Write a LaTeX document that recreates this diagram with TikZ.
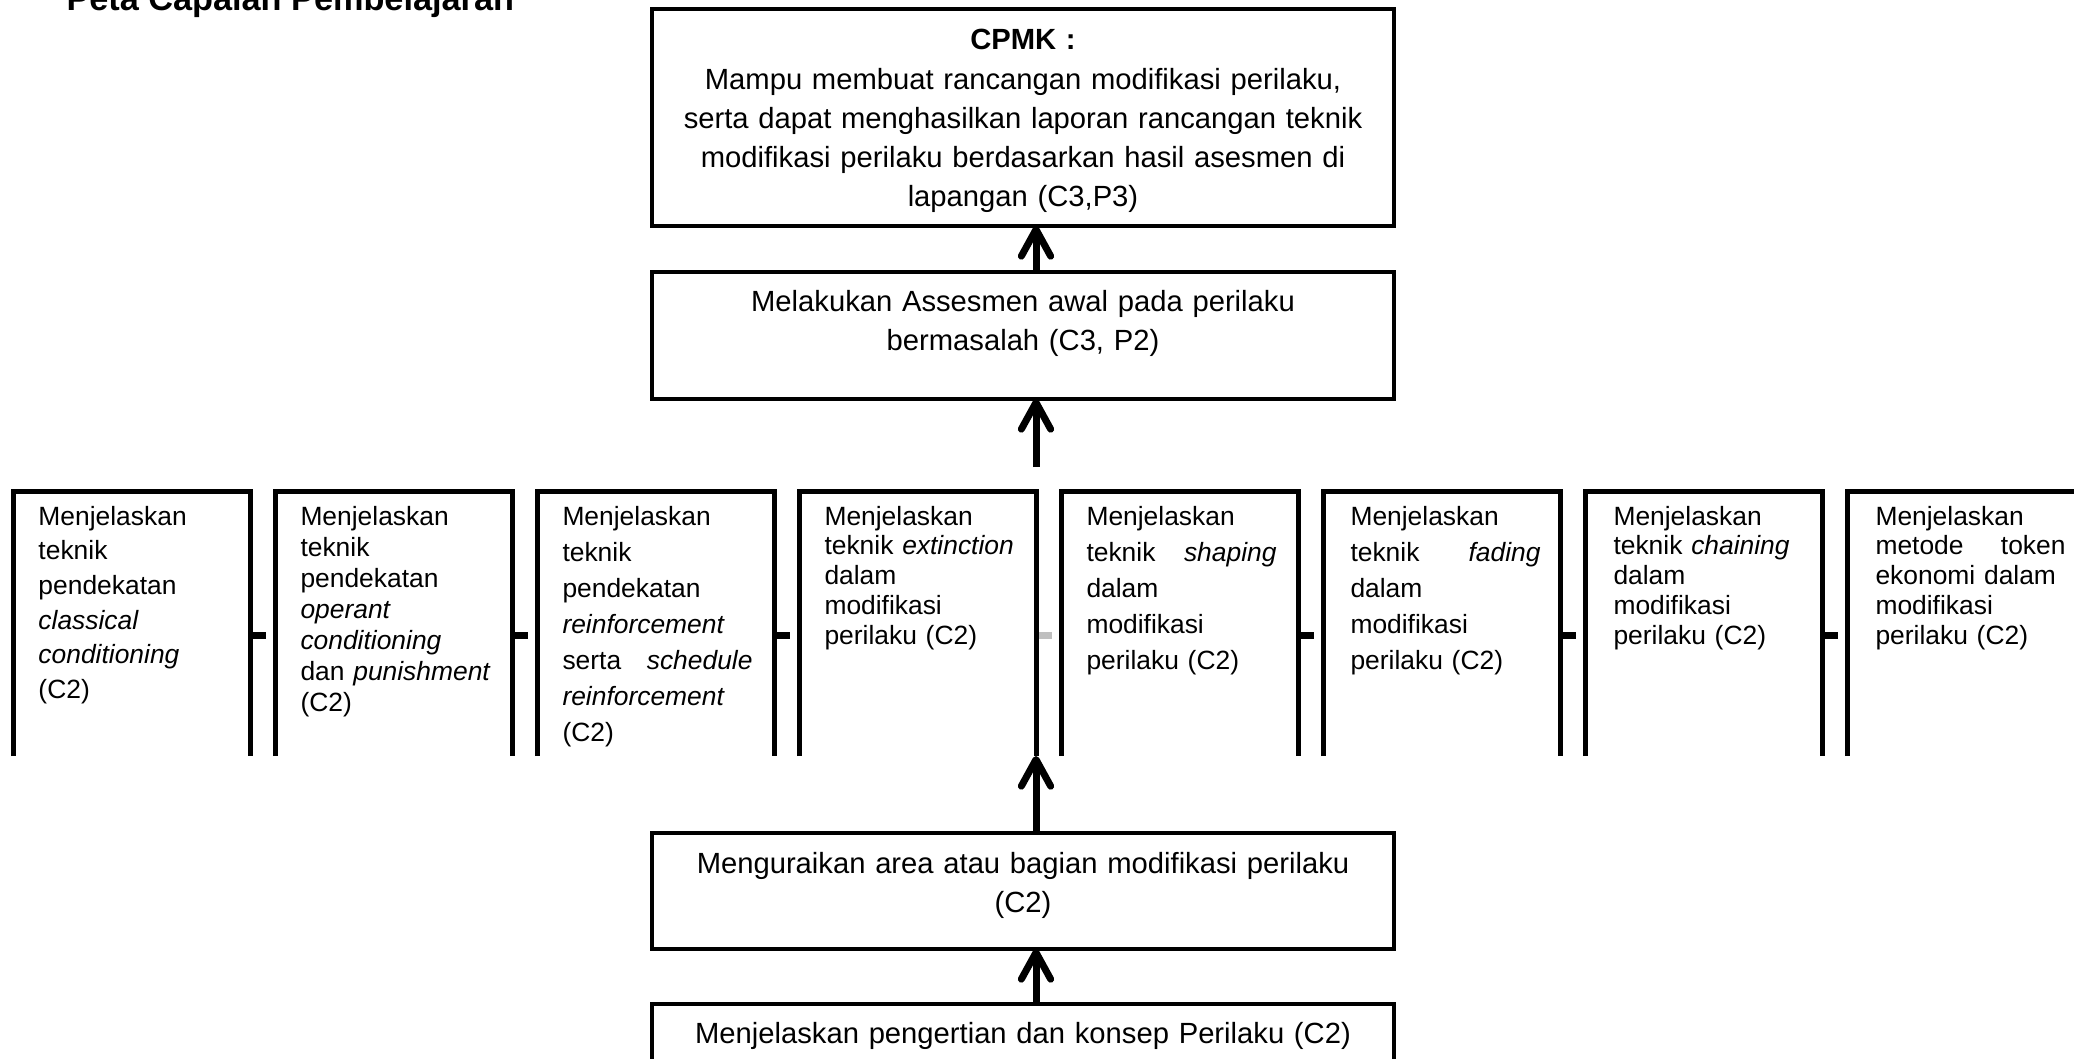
\documentclass[tikz,border=0pt]{standalone}
\usepackage{fontspec}
\setmainfont{Liberation Sans}
\usetikzlibrary{arrows.meta,calc}

\tikzset{every picture/.style={line width=0.75pt}}
\tikzset{
  boxside/.style={line width=3.75pt},
  midbox/.style={draw, line width=3.6pt, minimum width=556.5pt, inner sep=0pt, outer sep=0pt},
  rowbox/.style={inner sep=0pt, outer sep=0pt, minimum width=177.75pt, minimum height=198.75pt},
  rowtext/.style={anchor=base west, inner sep=0pt, text width=142.5pt, align=left, font=\fontsize{19.8}{27}\selectfont},
  rowtextnarrow/.style={rowtext, font=\fontsize{19.8}{22.4}\selectfont},
  midtext/.style={anchor=base, inner sep=0pt, text width=540pt, align=center, font=\fontsize{21.9}{29.4}\selectfont},
  titletext/.style={anchor=base west, inner sep=0pt, font=\fontsize{25.7}{30}\selectfont\bfseries},
  uparrow/.style={line width=5.25pt, -{Straight Barb[length=20pt,width=22pt,line cap=round,line join=round]}},
  stub/.style={line width=5.25pt, shorten >=6.5pt}
}

\begin{document}
\begin{tikzpicture}[x=0.75pt,y=0.75pt,yscale=-1,xscale=1]
\useasboundingbox (0,0) rectangle (2074,1059);

% Text Node
\node[titletext] (title) at (66,11) {Peta Capaian Pembelajaran};

%Shape: Rectangle
\node[midbox, minimum height=162.75pt] (cpmk) at (1023,117.5) {};
%Shape: Rectangle
\node[midbox, minimum height=95.25pt] (mel) at (1023,335.5) {};
%Shape: Rectangle
\node[midbox, minimum height=87pt] (urai) at (1023,891) {};
%Shape: Rectangle
\node[midbox, minimum height=75pt] (konsep) at (1023,1054) {};

%Shape: Rectangle
\node[rowbox] (b1) at (131.5,623.5) {};
\node[rowbox] (b2) at (393.5,623.5) {};
\node[rowbox] (b3) at (655.5,623.5) {};
\node[rowbox] (b4) at (917.5,623.5) {};
\node[rowbox] (b5) at (1179.5,623.5) {};
\node[rowbox] (b6) at (1441.5,623.5) {};
\node[rowbox] (b7) at (1703.5,623.5) {};
\node[rowbox] (b8) at (1965.5,623.5) {};

%Straight Lines
\draw[stub] ($(b1.north east)!0.545!(b1.south east)$) -- ($(b2.north west)!0.545!(b2.south west)$);
\draw[stub] ($(b2.north east)!0.545!(b2.south east)$) -- ($(b3.north west)!0.545!(b3.south west)$);
\draw[stub] ($(b3.north east)!0.545!(b3.south east)$) -- ($(b4.north west)!0.545!(b4.south west)$);
\draw[stub, draw=black!25] ($(b4.north east)!0.545!(b4.south east)$) -- ($(b5.north west)!0.545!(b5.south west)$);
\draw[stub] ($(b5.north east)!0.545!(b5.south east)$) -- ($(b6.north west)!0.545!(b6.south west)$);
\draw[stub] ($(b6.north east)!0.545!(b6.south east)$) -- ($(b7.north west)!0.545!(b7.south west)$);
\draw[stub] ($(b7.north east)!0.545!(b7.south east)$) -- ($(b8.north west)!0.545!(b8.south west)$);

%Shape: open boxes
\draw[boxside] (b1.south west) -- (b1.north west) -- (b1.north east) -- (b1.south east);
\draw[boxside] (b2.south west) -- (b2.north west) -- (b2.north east) -- (b2.south east);
\draw[boxside] (b3.south west) -- (b3.north west) -- (b3.north east) -- (b3.south east);
\draw[boxside] (b4.south west) -- (b4.north west) -- (b4.north east) -- (b4.south east);
\draw[boxside] (b5.south west) -- (b5.north west) -- (b5.north east) -- (b5.south east);
\draw[boxside] (b6.south west) -- (b6.north west) -- (b6.north east) -- (b6.south east);
\draw[boxside] (b7.south west) -- (b7.north west) -- (b7.north east) -- (b7.south east);
\draw[boxside] (b8.south west) -- (b8.north west) -- (b8.north east) -- (b8.south east);

%Straight Lines
\coordinate (rowarr) at ($(b4.north east)+(0,-24)$);
\draw[uparrow] (mel.north -| rowarr) -- (cpmk.south -| rowarr);
\draw[uparrow] (rowarr) -- (mel.south -| rowarr);
\draw[uparrow] (urai.north -| b4.south east) -- (b4.south east);
\draw[uparrow] (konsep.north -| rowarr) -- (urai.south -| rowarr);

% Text Node
\node[midtext] (cpmktext) at ($(cpmk.north)+(0,41)$) {\textbf{CPMK :}\\ Mampu membuat rancangan modifikasi perilaku,\\ serta dapat menghasilkan laporan rancangan teknik\\ modifikasi perilaku berdasarkan hasil asesmen di\\ lapangan (C3,P3)};
% Text Node
\node[midtext] (meltext) at ($(mel.north)+(0,39)$) {Melakukan Assesmen awal pada perilaku\\ bermasalah (C3, P2)};
% Text Node
\node[midtext] (uraitext) at ($(urai.north)+(0,40)$) {Menguraikan area atau bagian modifikasi perilaku\\ (C2)};
% Text Node
\node[midtext] (konseptext) at ($(konsep.north)+(0,39)$) {Menjelaskan pengertian dan konsep Perilaku (C2)};

% Text Node
\node[rowtext, font=\fontsize{19.8}{26}\selectfont] (t1) at ($(b1.north west)+(25,34)$) {Menjelaskan\\ teknik\\ pendekatan\\ \textit{classical}\\ \textit{conditioning}\\ (C2)};
% Text Node
\node[rowtext, font=\fontsize{19.8}{23.25}\selectfont] (t2) at ($(b2.north west)+(25,34)$) {Menjelaskan\\ teknik\\ pendekatan\\ \textit{operant}\\ \textit{conditioning}\\ \mbox{dan \textit{punishment}}\\ (C2)};
% Text Node
\node[rowtext] (t3) at ($(b3.north west)+(25,34)$) {Menjelaskan\\ teknik\\ pendekatan\\ \textit{reinforcement}\\ serta \hfill \textit{schedule}\\ \textit{reinforcement}\\ (C2)};
% Text Node
\node[rowtextnarrow] (t4) at ($(b4.north west)+(25,34)$) {Menjelaskan\\ teknik \textit{extinction}\\ dalam\\ modifikasi\\ perilaku (C2)};
% Text Node
\node[rowtext] (t5) at ($(b5.north west)+(25,34)$) {Menjelaskan\\ teknik \hfill \textit{shaping}\\ dalam\\ modifikasi\\ perilaku (C2)};
% Text Node
\node[rowtext] (t6) at ($(b6.north west)+(27,34)$) {Menjelaskan\\ teknik \hfill \textit{fading}\\ dalam\\ modifikasi\\ perilaku (C2)};
% Text Node
\node[rowtextnarrow] (t7) at ($(b7.north west)+(28,34)$) {Menjelaskan\\ teknik \textit{chaining}\\ dalam\\ modifikasi\\ perilaku (C2)};
% Text Node
\node[rowtextnarrow] (t8) at ($(b8.north west)+(28,34)$) {Menjelaskan\\ metode \hfill token\\ ekonomi dalam\\ modifikasi\\ perilaku (C2)};

\end{tikzpicture}
\end{document}
